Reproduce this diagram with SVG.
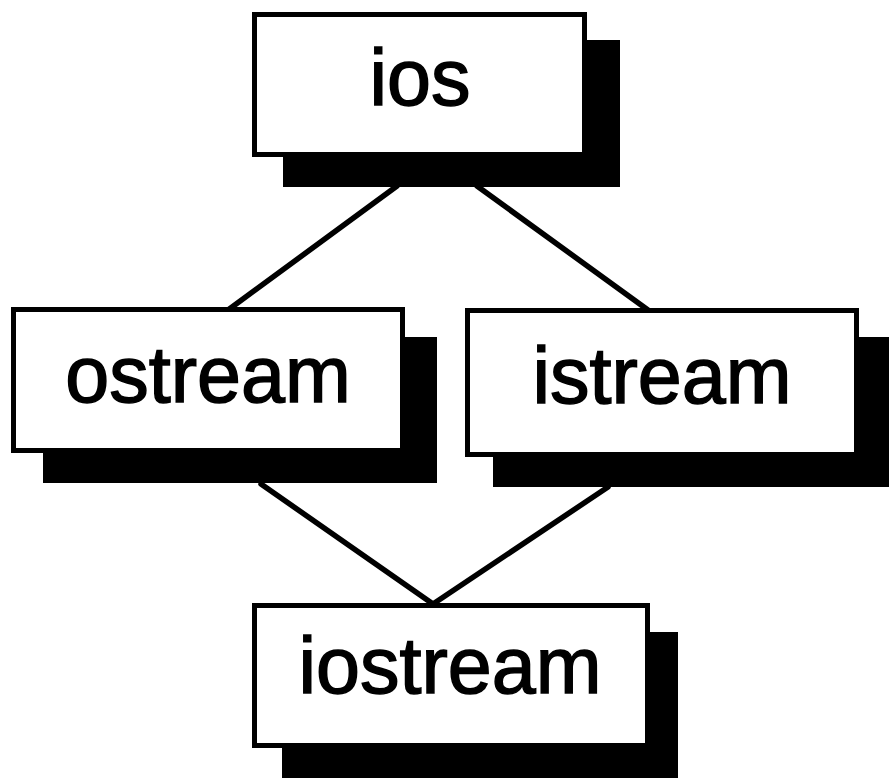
<svg xmlns="http://www.w3.org/2000/svg" width="889" height="784" viewBox="0 0 889 784">
<style>
.shadow{fill:#000}
.box{fill:#fff;stroke:#000;stroke-width:5}
.lbl{font-family:"Liberation Sans",Arial,sans-serif;font-size:79px;fill:#000;stroke:#000;stroke-width:1.5;text-anchor:middle}
.edge{stroke:#000;stroke-width:5.5;fill:none;stroke-linecap:round}
</style>
<rect width="889" height="784" fill="#fff"/>
<g id="connectors">
<line class="edge" x1="397" y1="186" x2="228" y2="310"/>
<line class="edge" x1="477" y1="186" x2="648" y2="310"/>
<line class="edge" x1="261" y1="484" x2="433" y2="604"/>
<line class="edge" x1="608" y1="487" x2="433" y2="604"/>
</g>
<g id="ios">
<rect class="shadow" x="283" y="40" width="337" height="147"/>
<rect class="box" x="254.5" y="14.5" width="330" height="140"/>
<text class="lbl" x="420" y="105">ios</text>
</g>
<g id="ostream">
<rect class="shadow" x="43" y="337" width="394" height="146"/>
<rect class="box" x="13.5" y="309.5" width="389" height="141"/>
<text class="lbl" x="208" y="402">ostream</text>
</g>
<g id="istream">
<rect class="shadow" x="493" y="337" width="398" height="150"/>
<rect class="box" x="467.5" y="310.5" width="389" height="144"/>
<text class="lbl" x="662" y="403">istream</text>
</g>
<g id="iostream">
<rect class="shadow" x="282" y="632" width="396" height="146"/>
<rect class="box" x="254.5" y="605.5" width="393" height="140"/>
<text class="lbl" x="450" y="693">iostream</text>
</g>
</svg>
